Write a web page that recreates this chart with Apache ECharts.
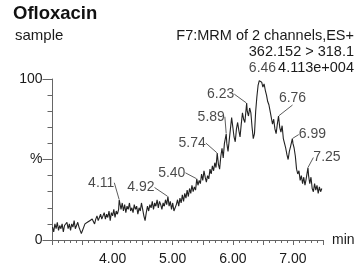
<!DOCTYPE html>
<html><head><meta charset="utf-8">
<script src="https://cdn.jsdelivr.net/npm/echarts@6/dist/echarts.min.js"></script>
<style>html,body{margin:0;padding:0;background:#fff}#c{width:360px;height:267px}</style>
</head><body><div id="c"></div>
<script>
const times = [
3.00,3.02,3.04,3.06,3.08,3.10,3.12,3.14,3.16,3.18,
3.20,3.22,3.24,3.26,3.28,3.30,3.32,3.34,3.36,3.38,
3.40,3.42,3.44,3.46,3.48,3.50,3.52,3.54,3.56,3.58,
3.60,3.62,3.64,3.66,3.68,3.70,3.72,3.74,3.76,3.78,
3.80,3.82,3.84,3.86,3.88,3.90,3.92,3.94,3.96,3.98,
4.00,4.02,4.04,4.06,4.08,4.10,4.11,4.14,4.16,4.18,
4.20,4.22,4.24,4.26,4.28,4.30,4.32,4.34,4.36,4.38,
4.40,4.42,4.44,4.46,4.48,4.50,4.52,4.54,4.56,4.58,
4.60,4.62,4.64,4.66,4.68,4.70,4.72,4.74,4.76,4.78,
4.80,4.82,4.84,4.86,4.88,4.90,4.92,4.94,4.96,4.98,
5.00,5.02,5.04,5.06,5.08,5.10,5.12,5.14,5.16,5.18,
5.20,5.22,5.24,5.26,5.28,5.30,5.32,5.34,5.36,5.38,
5.40,5.42,5.44,5.46,5.48,5.50,5.52,5.54,5.56,5.58,
5.60,5.62,5.64,5.66,5.68,5.70,5.72,5.74,5.76,5.78,
5.80,5.82,5.84,5.86,5.89,5.90,5.92,5.94,5.96,5.98,
6.00,6.02,6.04,6.06,6.08,6.10,6.12,6.14,6.16,6.18,
6.20,6.23,6.24,6.26,6.28,6.30,6.32,6.34,6.36,6.38,
6.40,6.42,6.44,6.46,6.48,6.50,6.52,6.54,6.56,6.58,
6.60,6.62,6.64,6.66,6.68,6.70,6.72,6.74,6.76,6.78,
6.80,6.82,6.84,6.86,6.88,6.90,6.92,6.94,6.96,6.99,
7.00,7.02,7.04,7.06,7.08,7.10,7.12,7.14,7.16,7.18,
7.20,7.22,7.25,7.26,7.28,7.30,7.32,7.34,7.36,7.38,
7.40,7.42,7.44,7.46,7.48];
const intensity = [
8,5,10,7,11,6,9,7,10,5,
9,8,11,7,10,6,10,8,12,7,
9,11,8,6,4,5,8,10,9,11,
10,12,11,13,12,10,13,15,12,14,
16,13,15,17,13,16,14,18,12,17,
15,19,14,18,16,19,25,19,23,18,
22,17,21,19,23,18,20,17,22,19,
21,16,20,18,23,19,15,12,17,21,
18,22,20,24,19,23,21,25,20,24,
22,19,23,21,25,22,27,21,24,19,
23,18,17,22,25,21,26,23,28,24,
29,26,31,27,32,29,34,30,33,31,
38,34,37,35,41,37,43,39,36,40,
38,44,41,46,43,48,45,54,47,44,
52,57,51,60,66,60,55,62,69,76,
70,64,61,69,73,68,64,72,79,75,
73,85,80,77,82,79,70,63,66,80,
89,96,99,100,98,95,97,93,90,86,
84,80,76,72,75,69,66,72,77,70,
67,71,63,60,57,53,50,55,58,63,
60,57,52,44,41,43,37,40,35,39,
34,38,45,40,35,39,32,30,35,31,
34,29,33,30,32];
const peakTimes = [4.11,4.92,5.40,5.74,5.89,6.23,6.46,6.76,6.99,7.25];
const peakLabels = ['4.11','4.92','5.40','5.74','5.89','6.23','6.46','6.76','6.99','7.25'];
const xTickLabels = ['4.00','5.00','6.00','7.00'];
const yTickValues = [0,50,100];
const yTickLabels = ['0','%','100'];
const titleText = 'Ofloxacin';
const sampleText = 'sample';
const infoLines = ['F7:MRM of 2 channels,ES+','362.152 > 318.1','4.113e+004'];

// label offsets (layout only)
const labelOffsets = [[-18,-17],[-27,-9],[-25,-6],[-25,-10],[-15,-17],[-26,-9],[2,-11],[14,-18],[20,-4],[19,-10]];

const FONT = '"Liberation Sans", Arial, Helvetica, sans-serif';
const TXT = '#1a1a1a';
const AX = '#666';

const chart = echarts.init(document.getElementById('c'), null, {renderer: 'canvas'});
const lineData = times.map((t, i) => [t, intensity[i]]);
const peakData = peakTimes.map((t, i) => {
  const idx = times.indexOf(t);
  return {value: [t, intensity[idx]], name: peakLabels[i],
          labelLine: {show: peakLabels[i] !== '6.46'}};
});

chart.setOption({
  animation: false,
  textStyle: {fontFamily: FONT},
  graphic: [
    {type: 'text', left: 13, top: 4, silent: true,
     style: {text: titleText, font: 'bold 18.5px ' + FONT, fill: '#111'}},
    {type: 'text', left: 15, top: 28, silent: true,
     style: {text: sampleText, font: '15px ' + FONT, fill: TXT}},
    {type: 'text', x: 354, y: 28, silent: true,
     style: {text: infoLines.join('\n'), font: '14.5px ' + FONT, fill: TXT,
             align: 'right', verticalAlign: 'top', lineHeight: 16}}
  ],
  grid: {left: 52.5, right: 37, top: 79, bottom: 27, containLabel: false},
  xAxis: {
    type: 'value', min: 3, max: 7.5, interval: 0.5,
    axisLine: {show: true, lineStyle: {color: AX, width: 1}},
    axisTick: {show: true, length: 5, lineStyle: {color: AX, width: 1}},
    minorTick: {show: true, splitNumber: 5, length: 3, lineStyle: {color: AX, width: 1}},
    splitLine: {show: false}, minorSplitLine: {show: false},
    axisLabel: {margin: 12, fontSize: 14, color: TXT, fontFamily: FONT,
      formatter: v => { const s = v.toFixed(2); return xTickLabels.indexOf(s) >= 0 ? s : ''; }},
    name: 'min', nameLocation: 'end', nameGap: 9,
    nameTextStyle: {fontSize: 14, color: TXT, fontFamily: FONT, verticalAlign: 'middle'}
  },
  yAxis: [
    {type: 'value', min: 0, max: 100, interval: 10, position: 'left',
     axisLine: {show: true, lineStyle: {color: AX, width: 1}},
     axisTick: {show: true, length: 5, lineStyle: {color: AX, width: 1}},
     axisLabel: {show: false}, splitLine: {show: false}},
    {type: 'value', min: 0, max: 100, interval: 50, position: 'left', offset: 0,
     axisLine: {show: false},
     axisTick: {show: true, length: 10, lineStyle: {color: AX, width: 1}},
     axisLabel: {margin: 10, fontSize: 14, color: TXT, fontFamily: FONT,
       formatter: v => { const k = yTickValues.indexOf(v); return k >= 0 ? yTickLabels[k] : ''; }},
     splitLine: {show: false}}
  ],
  series: [
    {type: 'line', data: lineData, xAxisIndex: 0, yAxisIndex: 0, showSymbol: false,
     lineStyle: {color: '#222', width: 1.1}, silent: true},
    {type: 'scatter', data: peakData, xAxisIndex: 0, yAxisIndex: 0, symbolSize: 1,
     itemStyle: {color: 'rgba(0,0,0,0)'}, silent: true, z: 5,
     label: {show: true, position: 'inside', formatter: p => p.name,
             fontSize: 14, color: TXT, fontFamily: FONT},
     labelLine: {show: true, lineStyle: {color: '#333', width: 0.8}},
     labelLayout: p => ({dx: labelOffsets[p.dataIndex][0], dy: labelOffsets[p.dataIndex][1]})}
  ]
});
</script>
</body></html>
